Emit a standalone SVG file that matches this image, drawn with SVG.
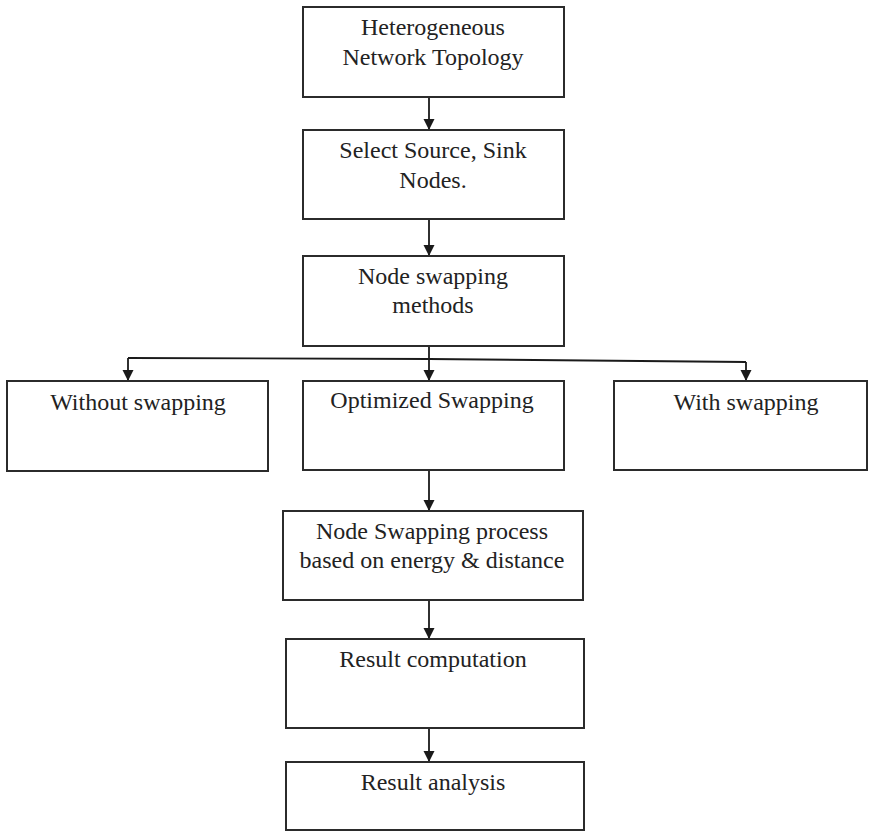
<svg xmlns="http://www.w3.org/2000/svg" width="871" height="832" viewBox="0 0 871 832">
<defs>
<marker id="ah" markerWidth="11" markerHeight="12" refX="11" refY="5.5" orient="auto" markerUnits="userSpaceOnUse" viewBox="0 0 11 11">
<path d="M0,0 L11,5.5 L0,11 Z" fill="#1a1a1a"/>
</marker>
<style>
.box{fill:#fff;stroke:#2b2b2b;stroke-width:2}
.c{fill:none;stroke:#1a1a1a;stroke-width:1.8}
</style>
</defs>
<rect width="871" height="832" fill="#fff"/>
<g id="connectors">
<line class="c" x1="429" y1="97" x2="429" y2="130" marker-end="url(#ah)"/>
<line class="c" x1="429" y1="219" x2="429" y2="256" marker-end="url(#ah)"/>
<line class="c" x1="429" y1="346" x2="429" y2="381" marker-end="url(#ah)"/>
<path class="c" d="M128,358 L429,359 L746,362"/>
<line class="c" x1="128" y1="358" x2="128" y2="381" marker-end="url(#ah)"/>
<line class="c" x1="746" y1="362" x2="746" y2="381" marker-end="url(#ah)"/>
<line class="c" x1="429" y1="470" x2="429" y2="511" marker-end="url(#ah)"/>
<line class="c" x1="429" y1="600" x2="429" y2="639" marker-end="url(#ah)"/>
<line class="c" x1="429" y1="728" x2="429" y2="762" marker-end="url(#ah)"/>
</g>
<g id="nodes">
<g id="n1"><rect class="box" x="303" y="7" width="261" height="90"/><text x="433" y="35" style="font-family:'Liberation Serif',serif;font-size:24px;fill:#222;text-anchor:middle">Heterogeneous</text><text x="433" y="65" style="font-family:'Liberation Serif',serif;font-size:24px;fill:#222;text-anchor:middle">Network Topology</text></g>
<g id="n2"><rect class="box" x="303" y="130" width="261" height="89"/><text x="433" y="158" style="font-family:'Liberation Serif',serif;font-size:24px;fill:#222;text-anchor:middle">Select Source, Sink</text><text x="433" y="188" style="font-family:'Liberation Serif',serif;font-size:24px;fill:#222;text-anchor:middle">Nodes.</text></g>
<g id="n3"><rect class="box" x="303" y="256" width="261" height="90"/><text x="433" y="284" style="font-family:'Liberation Serif',serif;font-size:24px;fill:#222;text-anchor:middle">Node swapping</text><text x="433" y="313" style="font-family:'Liberation Serif',serif;font-size:24px;fill:#222;text-anchor:middle">methods</text></g>
<g id="n4"><rect class="box" x="7" y="381" width="261" height="90"/><text x="138" y="410" style="font-family:'Liberation Serif',serif;font-size:24px;fill:#222;text-anchor:middle">Without swapping</text></g>
<g id="n5"><rect class="box" x="303" y="381" width="261" height="89"/><text x="432" y="408" style="font-family:'Liberation Serif',serif;font-size:24px;fill:#222;text-anchor:middle">Optimized Swapping</text></g>
<g id="n6"><rect class="box" x="614" y="381" width="253" height="89"/><text x="746" y="410" style="font-family:'Liberation Serif',serif;font-size:24px;fill:#222;text-anchor:middle">With swapping</text></g>
<g id="n7"><rect class="box" x="283" y="511" width="300" height="89"/><text x="432" y="539" style="font-family:'Liberation Serif',serif;font-size:24px;fill:#222;text-anchor:middle">Node Swapping process</text><text x="432" y="568" style="font-family:'Liberation Serif',serif;font-size:24px;fill:#222;text-anchor:middle">based on energy &amp; distance</text></g>
<g id="n8"><rect class="box" x="286" y="639" width="298" height="89"/><text x="433" y="667" style="font-family:'Liberation Serif',serif;font-size:24px;fill:#222;text-anchor:middle">Result computation</text></g>
<g id="n9"><rect class="box" x="286" y="762" width="298" height="68"/><text x="433" y="790" style="font-family:'Liberation Serif',serif;font-size:24px;fill:#222;text-anchor:middle">Result analysis</text></g>
</g>
</svg>
